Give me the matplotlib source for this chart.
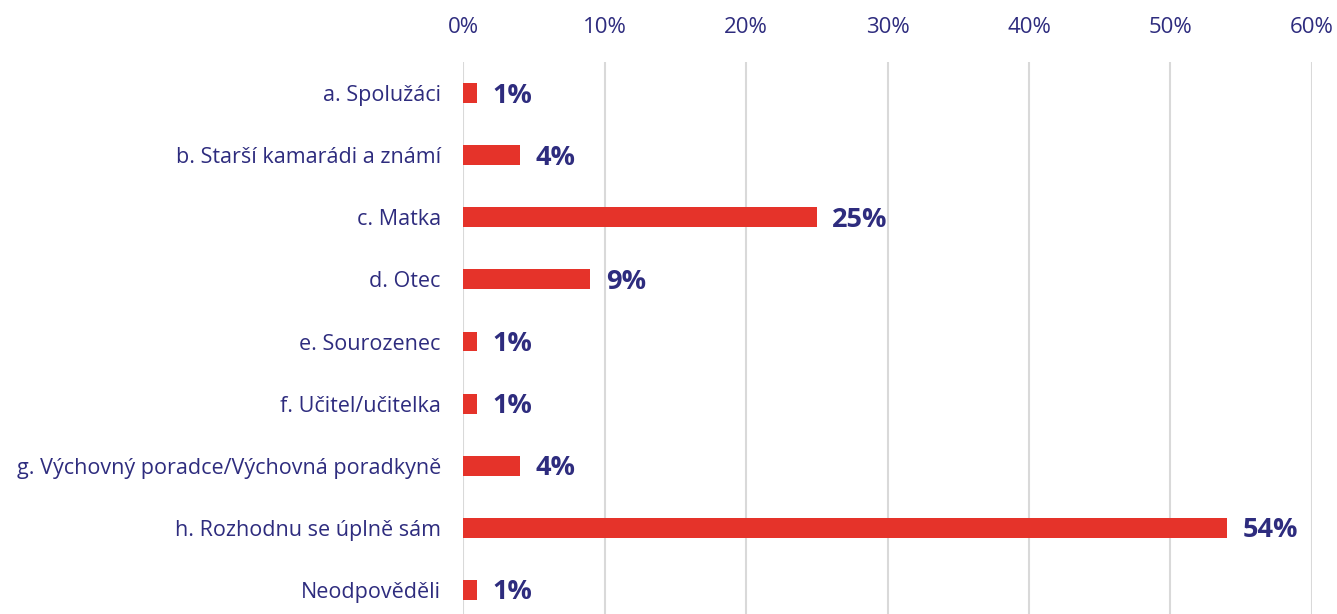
import matplotlib.pyplot as plt
from matplotlib.ticker import FuncFormatter

categories = [
    "a. Spolužáci",
    "b. Starší kamarádi a známí",
    "c. Matka",
    "d. Otec",
    "e. Sourozenec",
    "f. Učitel/učitelka",
    "g. Výchovný poradce/Výchovná poradkyně",
    "h. Rozhodnu se úplně sám",
    "Neodpověděli",
]
values = [1, 4, 25, 9, 1, 1, 4, 54, 1]
xticks = [0, 10, 20, 30, 40, 50, 60]

NAVY = "#2E2C7E"
RED = "#E5332A"
plt.rcParams['font.family'] = ['Open Sans', 'DejaVu Sans']

fig = plt.figure(figsize=(13.37, 6.14), dpi=100)
ax = fig.add_axes([0.3463, -0.0114, 0.635, 0.9104])

y = list(range(len(categories)))
ax.barh(y, values, height=0.32, color=RED, zorder=3)
for yi, v in zip(y, values):
    ax.text(v + 1.1, yi + 0.04, f"{v}%", va="center", ha="left", fontsize=19.5,
            fontweight="bold", color=NAVY)

ax.set_ylim(len(categories) - 0.5, -0.5)
ax.set_xlim(0, 60)
ax.set_yticks(y)
ax.set_yticklabels(categories, fontsize=15.5, color=NAVY)
ax.set_xticks(xticks)
ax.xaxis.set_major_formatter(FuncFormatter(lambda x, p: f"{int(x)}%"))
ax.xaxis.tick_top()
ax.tick_params(axis='x', labelsize=16, labelcolor=NAVY, length=0, pad=17)
ax.tick_params(axis='y', length=0, pad=16)
ax.grid(axis='x', color="#D9D9D9", linewidth=1.5, zorder=0)
for s in ax.spines.values():
    s.set_visible(False)

fig.savefig("out.png", dpi=100)
